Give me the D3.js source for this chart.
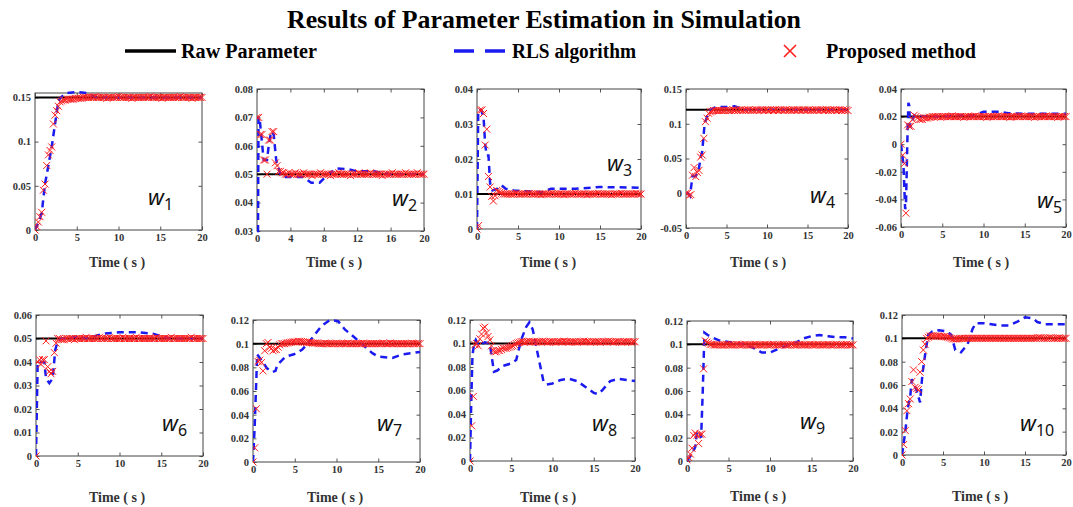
<!DOCTYPE html>
<html>
<head>
<meta charset="utf-8">
<script src="https://cdn.jsdelivr.net/npm/d3@7"></script>
<style>
  body { margin: 0; background: #fff; }
  svg { display: block; }
</style>
</head>
<body>
<script>
// sample times of the estimator (s)
var time = [0,0.2,0.4,0.6,0.8,1.0,1.2,1.4,1.6,1.8,2.0,2.2,2.4,2.6,2.8,3.0,3.2,3.4,3.6,3.8,4.0,
  4.2,4.4,4.6,4.8,5.0,5.2,5.4,5.6,5.8,6.0,6.2,6.4,6.6,6.8,7.0,7.2,7.4,7.6,7.8,8.0,
  8.2,8.4,8.6,8.8,9.0,9.2,9.4,9.6,9.8,10.0,10.2,10.4,10.6,10.8,11.0,11.2,11.4,11.6,11.8,12.0,
  12.2,12.4,12.6,12.8,13.0,13.2,13.4,13.6,13.8,14.0,14.2,14.4,14.6,14.8,15.0,15.2,15.4,15.6,15.8,16.0,
  16.2,16.4,16.6,16.8,17.0,17.2,17.4,17.6,17.8,18.0,18.2,18.4,18.6,18.8,19.0,19.2,19.4,19.6,19.8,20.0]

var names = ['1','2','3','4','5','6','7','8','9','10']
var rawParam = [0.15, 0.05, 0.01, 0.12, 0.02, 0.05, 0.1, 0.1, 0.1, 0.1]

// proposed method estimates, one value per entry of `time`
var propW1 = [0,0.004,0.009,0.015,0.020,0.045,0.052,0.073,0.085,0.090,
  0.094,0.120,0.130,0.135,0.140,0.145,0.146,0.147,0.147,0.148,0.148,
  0.148,0.148,0.148,0.149,0.149,0.149,0.149,0.149,0.150,0.150,
  0.150,0.150,0.150,0.150,0.150,0.151,0.150,0.150,0.150,0.150,
  0.150,0.150,0.149,0.150,0.150,0.150,0.150,0.150,0.150,0.151,
  0.150,0.150,0.150,0.150,0.150,0.150,0.150,0.149,0.150,0.150,
  0.150,0.150,0.150,0.150,0.150,0.150,0.150,0.150,0.151,0.150,
  0.150,0.150,0.150,0.150,0.150,0.149,0.150,0.150,0.150,0.150,
  0.150,0.150,0.150,0.150,0.150,0.150,0.151,0.150,0.150,0.150,
  0.150,0.150,0.150,0.149,0.150,0.150,0.150,0.150,0.150,0.150]
var propW2 = [0.070,0.070,0.064,0.064,0.055,0.055,0.050,0.062,0.062,0.065,
  0.065,0.054,0.053,0.051,0.051,0.0505,0.0505,0.050,0.050,0.0505,0.050,
  0.050,0.050,0.0505,0.050,0.050,0.050,0.050,0.0505,0.050,0.050,
  0.050,0.050,0.0495,0.050,0.050,0.050,0.050,0.0505,0.050,0.050,
  0.050,0.050,0.050,0.0495,0.050,0.050,0.050,0.050,0.0505,0.050,
  0.050,0.050,0.050,0.050,0.050,0.0495,0.050,0.050,0.050,0.050,
  0.0505,0.050,0.050,0.050,0.050,0.050,0.050,0.0505,0.050,0.050,
  0.050,0.050,0.050,0.050,0.0495,0.050,0.050,0.050,0.050,0.050,
  0.0505,0.050,0.050,0.050,0.050,0.050,0.050,0.050,0.0505,0.050,
  0.050,0.050,0.050,0.050,0.050,0.0505,0.050,0.050,0.050,0.050]
var propW3 = [0,0.001,0.034,0.034,0.033,0.024,0.0285,0.015,0.012,0.0093,
  0.008,0.0095,0.011,0.0108,0.0105,0.0102,0.010,0.010,0.010,0.010,0.010,
  0.010,0.010,0.010,0.0102,0.010,0.010,0.010,0.010,0.010,0.010,
  0.010,0.0102,0.010,0.010,0.010,0.010,0.010,0.010,0.0098,0.010,
  0.010,0.010,0.010,0.010,0.010,0.0102,0.010,0.010,0.010,0.010,
  0.010,0.010,0.0098,0.010,0.010,0.010,0.010,0.010,0.010,0.0102,
  0.010,0.010,0.010,0.010,0.010,0.010,0.0098,0.010,0.010,0.010,
  0.010,0.010,0.010,0.0102,0.010,0.010,0.010,0.010,0.010,0.010,
  0.010,0.0098,0.010,0.010,0.010,0.010,0.010,0.0102,0.010,0.010,
  0.010,0.010,0.010,0.010,0.010,0.010,0.0102,0.010,0.010,0.010]
var propW4 = [0,0,-0.003,-0.002,0.026,0.037,0.024,0.030,0.033,0.052,
  0.055,0.079,0.103,0.108,0.115,0.117,0.118,0.119,0.119,0.119,0.119,
  0.119,0.119,0.119,0.119,0.120,0.119,0.119,0.119,0.120,0.119,
  0.120,0.119,0.120,0.120,0.119,0.120,0.119,0.120,0.120,0.119,
  0.120,0.119,0.120,0.120,0.119,0.120,0.120,0.119,0.120,0.120,
  0.119,0.120,0.120,0.119,0.120,0.120,0.119,0.120,0.120,0.119,
  0.120,0.120,0.119,0.120,0.119,0.120,0.120,0.119,0.120,0.120,
  0.119,0.120,0.120,0.119,0.120,0.120,0.119,0.120,0.119,0.120,
  0.120,0.119,0.120,0.120,0.119,0.120,0.120,0.119,0.120,0.119,
  0.120,0.120,0.119,0.120,0.120,0.119,0.120,0.119,0.120,0.119]
var propW5 = [0,-0.008,-0.014,-0.050,0.014,0.013,0.013,0.018,0.021,0.020,
  0.019,0.018,0.018,0.018,0.019,0.019,0.019,0.0195,0.0195,0.020,0.020,
  0.020,0.020,0.020,0.0195,0.020,0.020,0.020,0.020,0.020,0.020,
  0.0205,0.020,0.020,0.020,0.020,0.020,0.020,0.0195,0.020,0.020,
  0.020,0.020,0.020,0.020,0.0205,0.020,0.020,0.020,0.020,0.020,
  0.020,0.0195,0.020,0.020,0.020,0.020,0.020,0.020,0.0205,0.020,
  0.020,0.020,0.020,0.020,0.020,0.0195,0.020,0.020,0.020,0.020,
  0.020,0.020,0.0205,0.020,0.020,0.020,0.020,0.020,0.020,0.020,
  0.0195,0.020,0.020,0.020,0.020,0.020,0.020,0.0205,0.020,0.020,
  0.020,0.020,0.020,0.020,0.0195,0.020,0.020,0.020,0.020,0.020]
var propW6 = [0,0.040,0.041,0.039,0.041,0.041,0.049,0.038,0.036,0.035,
  0.036,0.044,0.048,0.050,0.050,0.0495,0.0495,0.0495,0.050,0.050,0.050,
  0.050,0.050,0.0495,0.050,0.050,0.050,0.050,0.050,0.050,0.0505,
  0.050,0.050,0.050,0.050,0.050,0.050,0.050,0.0505,0.050,0.050,
  0.050,0.050,0.050,0.0505,0.050,0.050,0.050,0.050,0.050,0.050,
  0.050,0.0505,0.050,0.050,0.050,0.050,0.050,0.050,0.050,0.0505,
  0.050,0.050,0.050,0.050,0.050,0.050,0.050,0.050,0.050,0.050,
  0.050,0.0505,0.050,0.050,0.050,0.050,0.050,0.050,0.050,0.050,
  0.0505,0.050,0.050,0.050,0.050,0.050,0.050,0.050,0.050,0.050,
  0.050,0.050,0.0505,0.050,0.050,0.050,0.050,0.050,0.050,0.050]
var propW7 = [0,0.012,0.045,0.085,0.086,0.084,0.077,0.094,0.100,0.101,
  0.097,0.096,0.094,0.095,0.095,0.097,0.099,0.100,0.100,0.100,0.1005,
  0.1008,0.101,0.1012,0.1015,0.1015,0.1015,0.102,0.102,0.1018,0.1015,
  0.1012,0.101,0.101,0.101,0.1008,0.1005,0.1005,0.1005,0.1002,0.100,
  0.100,0.100,0.1005,0.100,0.100,0.100,0.100,0.100,0.100,0.1005,
  0.100,0.100,0.100,0.100,0.100,0.100,0.1005,0.100,0.100,0.100,
  0.100,0.100,0.100,0.100,0.100,0.1005,0.100,0.100,0.100,0.100,
  0.100,0.100,0.100,0.100,0.100,0.100,0.100,0.1005,0.100,0.100,
  0.100,0.1005,0.100,0.100,0.100,0.100,0.100,0.100,0.100,0.100,
  0.100,0.100,0.100,0.100,0.1005,0.100,0.100,0.100,0.100,0.100]
var propW8 = [0,0.030,0.055,0.099,0.100,0.098,0.104,0.108,0.113,0.114,
  0.109,0.106,0.103,0.098,0.094,0.093,0.093,0.094,0.094,0.095,0.096,
  0.096,0.096,0.0965,0.097,0.0975,0.098,0.099,0.100,0.1005,0.101,
  0.1015,0.1015,0.101,0.1015,0.1015,0.102,0.1015,0.1015,0.1015,0.101,
  0.1015,0.1015,0.1015,0.102,0.1015,0.1015,0.101,0.1015,0.1015,0.1015,
  0.1015,0.101,0.1015,0.1015,0.1015,0.1015,0.102,0.1015,0.1015,0.101,
  0.1015,0.1015,0.1015,0.1015,0.101,0.1015,0.1015,0.1015,0.102,0.1015,
  0.1015,0.1015,0.101,0.1015,0.1015,0.1015,0.1015,0.1015,0.101,0.1015,
  0.1015,0.1015,0.1015,0.102,0.1015,0.1015,0.101,0.1015,0.1015,0.1015,
  0.1015,0.101,0.1015,0.1015,0.1015,0.1015,0.1015,0.101,0.1015,0.1015]
var propW9 = [0.001,0.003,0.006,0.011,0.022,0.024,0.022,0.015,0.023,0.023,
  0.079,0.103,0.102,0.101,0.100,0.100,0.0995,0.0995,0.0995,0.0995,0.0995,
  0.0995,0.0995,0.0995,0.100,0.0995,0.0995,0.0995,0.0995,0.0995,0.100,
  0.0995,0.0995,0.0995,0.0995,0.100,0.0995,0.0995,0.0995,0.0995,0.0995,
  0.100,0.0995,0.0995,0.0995,0.0995,0.0995,0.100,0.0995,0.0995,0.0995,
  0.0995,0.100,0.0995,0.0995,0.0995,0.0995,0.0995,0.100,0.0995,0.0995,
  0.0995,0.0995,0.100,0.0995,0.0995,0.0995,0.0995,0.100,0.0995,0.0995,
  0.0995,0.0995,0.0995,0.100,0.0995,0.0995,0.0995,0.0995,0.100,0.0995,
  0.0995,0.0995,0.0995,0.0995,0.100,0.0995,0.0995,0.0995,0.0995,0.100,
  0.0995,0.0995,0.0995,0.0995,0.0995,0.100,0.0995,0.0995,0.0995,0.0995]
var propW10 = [0,0.009,0.021,0.038,0.044,0.048,0.063,0.073,0.058,0.057,
  0.056,0.071,0.080,0.090,0.095,0.100,0.101,0.102,0.102,0.102,0.102,
  0.102,0.102,0.102,0.1015,0.1015,0.1015,0.1012,0.101,0.1005,0.100,
  0.0995,0.0995,0.0995,0.0995,0.0998,0.100,0.100,0.100,0.100,0.100,
  0.100,0.100,0.100,0.100,0.100,0.100,0.100,0.100,0.100,0.100,
  0.100,0.100,0.100,0.100,0.100,0.100,0.100,0.100,0.100,0.100,
  0.100,0.100,0.100,0.100,0.100,0.100,0.100,0.100,0.100,0.100,
  0.100,0.100,0.100,0.100,0.100,0.100,0.100,0.100,0.100,0.100,
  0.100,0.100,0.1005,0.1005,0.1005,0.100,0.100,0.100,0.100,0.1005,
  0.1005,0.100,0.100,0.100,0.100,0.1005,0.100,0.100,0.100,0.100]

// RLS algorithm estimates, [time, value] breakpoints
var rlsW1 = [[0,0],[0.4,0.008],[0.8,0.019],[1.2,0.052],[1.6,0.073],[2.0,0.094],[2.4,0.12],
  [2.8,0.146],[3.2,0.151],[3.8,0.155],[5,0.156],[6.2,0.155],[6.8,0.152],[7.5,0.15],[20,0.15]]
var rlsW2 = [[0,0.03],[0.12,0.03],[0.18,0.07],[0.3,0.07],[0.5,0.064],[0.8,0.055],[1.2,0.055],
  [1.4,0.06],[1.7,0.065],[2.0,0.064],[2.3,0.055],[2.8,0.05],[3.2,0.049],[5.5,0.049],
  [6.5,0.047],[7.5,0.047],[8.5,0.05],[9.5,0.052],[11,0.0517],[12,0.051],[14,0.051],
  [15,0.0505],[16,0.05],[20,0.05]]
var rlsW3 = [[0,0],[0.15,0.034],[0.5,0.034],[0.8,0.032],[1.0,0.024],[1.2,0.021],[1.4,0.021],
  [1.6,0.013],[1.9,0.011],[2.5,0.0115],[3,0.0125],[3.5,0.0115],[4.5,0.011],[8,0.0105],
  [9,0.0115],[12,0.0115],[15,0.012],[20,0.0118]]
var rlsW4 = [[0,0],[0.2,0],[0.5,-0.004],[0.8,0.025],[1.2,0.025],[1.5,0.03],[1.8,0.05],[2.0,0.06],
  [2.3,0.1],[2.6,0.11],[3,0.12],[3.5,0.123],[4,0.124],[5,0.124],[6,0.125],[6.5,0.123],
  [7,0.12],[20,0.12]]
var rlsW5 = [[0,0],[0.3,-0.015],[0.5,-0.047],[0.6,-0.045],[0.8,0.01],[0.9,0.03],[1.0,0.028],
  [1.1,0.012],[1.3,0.015],[1.6,0.021],[2,0.02],[5,0.02],[7,0.021],[9,0.021],[10,0.0235],
  [12,0.0235],[13,0.0225],[15,0.022],[20,0.022]]
var rlsW6 = [[0,0],[0.2,0.04],[1.0,0.04],[1.2,0.033],[1.6,0.031],[2.0,0.033],[2.3,0.045],
  [2.6,0.049],[3,0.05],[4,0.05],[5,0.051],[6,0.05],[7,0.051],[8,0.052],[10,0.0527],
  [12,0.0527],[14,0.052],[15,0.051],[16,0.05],[20,0.05]]
var rlsW7 = [[0,0],[0.2,0.03],[0.4,0.07],[0.5,0.091],[1.1,0.085],[1.7,0.079],[2.3,0.076],
  [2.7,0.077],[2.9,0.082],[3.9,0.089],[4.9,0.091],[5.9,0.095],[7,0.104],[8.2,0.115],
  [9.2,0.12],[10.2,0.119],[11,0.112],[12.2,0.105],[13,0.1],[14.3,0.092],[15,0.089],
  [16.7,0.088],[17.9,0.091],[20,0.093]]
var rlsW8 = [[0,0],[0.15,0.05],[0.3,0.09],[0.5,0.1],[0.7,0.103],[0.9,0.1],[1.1,0.098],
  [1.5,0.1],[1.8,0.101],[2.4,0.1],[2.9,0.076],[3.3,0.077],[4,0.081],[5,0.083],[5.6,0.086],
  [6.2,0.103],[6.8,0.114],[7.2,0.118],[7.6,0.112],[8.3,0.088],[8.9,0.068],[9.3,0.065],
  [10,0.066],[11,0.069],[12,0.07],[13,0.068],[14,0.063],[15,0.058],[15.5,0.057],
  [16,0.06],[17,0.068],[18,0.07],[19,0.069],[20,0.068]]
var rlsW9 = [[0,0],[0.5,0.005],[1.0,0.012],[1.2,0.025],[1.5,0.025],[1.7,0.02],[1.9,0.06],
  [2.1,0.11],[2.5,0.108],[3,0.106],[4,0.103],[5,0.102],[6,0.101],[7,0.1],[8,0.097],
  [9,0.093],[10,0.093],[11,0.096],[12,0.099],[13,0.101],[14,0.105],[15,0.107],
  [16,0.108],[17,0.107],[18,0.106],[19,0.106],[20,0.105]]
var rlsW10 = [[0,0],[0.4,0.02],[0.7,0.04],[1.0,0.05],[1.2,0.065],[1.5,0.06],[1.8,0.055],
  [2.2,0.045],[2.5,0.07],[2.9,0.09],[3.2,0.103],[3.7,0.106],[4.5,0.107],[5.5,0.106],
  [6,0.103],[6.5,0.09],[7.2,0.088],[8,0.095],[8.6,0.108],[9,0.113],[10,0.113],[12,0.111],
  [13,0.111],[14,0.114],[15,0.118],[16,0.117],[16.5,0.114],[17.5,0.112],[20,0.112]]

var proposed = [propW1, propW2, propW3, propW4, propW5, propW6, propW7, propW8, propW9, propW10]
var rls = [rlsW1, rlsW2, rlsW3, rlsW4, rlsW5, rlsW6, rlsW7, rlsW8, rlsW9, rlsW10]

// axis limits and tick labels
var yLimits = [[0,0.155],[0.03,0.08],[0,0.04],[-0.05,0.15],[-0.06,0.04],
  [0,0.06],[0,0.12],[0,0.12],[0,0.12],[0,0.12]]
var yTicks = [
  [0,0.05,0.1,0.15],
  [0.03,0.04,0.05,0.06,0.07,0.08],
  [0,0.01,0.02,0.03,0.04],
  [-0.05,0,0.05,0.1,0.15],
  [-0.06,-0.04,-0.02,0,0.02,0.04],
  [0,0.01,0.02,0.03,0.04,0.05,0.06],
  [0,0.02,0.04,0.06,0.08,0.1,0.12],
  [0,0.02,0.04,0.06,0.08,0.1,0.12],
  [0,0.02,0.04,0.06,0.08,0.1,0.12],
  [0,0.02,0.04,0.06,0.08,0.1,0.12]]
var xTicks5 = [0,5,10,15,20]
var xTicks4 = [0,4,8,12,16,20]
var legendLabels = ['Raw Parameter', 'RLS algorithm', 'Proposed method']

// layout: plot boxes [left, top, right, bottom], w-label spot, time-label spot
var boxes = [[35,93,202,230],[257,89,424,231],[477,89,641,229],[686,89,848,228],[901,89,1066,227],
  [36,315,203,456],[253,320,420,462],[470,320,635,461],[687,321,853,461],[902,315,1066,455]]
var wPos = [[148,205],[392,206],[607,171],[810,203],[1037,208],
  [162,431],[377,431],[592,431],[800,429],[1020,431]]
var timePos = [[117,267],[334,267],[548,267],[758,267],[981,267],
  [117,502],[335,502],[548,502],[758,501],[980,501]]

var W = 1073, H = 507
var serif = '"Liberation Serif", "Times New Roman", serif'
var blue = '#1b1bf0', red = '#ff1e1e'

var svg = d3.select('body')
  .append('svg')
  .attr('width', W)
  .attr('height', H)

svg.append('text')
  .attr('x', 287).attr('y', 28)
  .attr('textLength', 514).attr('lengthAdjust', 'spacingAndGlyphs')
  .style('font-family', serif).style('font-weight', 'bold').style('font-size', '26px')
  .text('Results of Parameter Estimation in Simulation')

// legend
var leg = svg.append('g')
leg.append('line').attr('x1', 125).attr('x2', 176).attr('y1', 51).attr('y2', 51)
  .style('stroke', '#000').style('stroke-width', 3.5)
leg.append('line').attr('x1', 454).attr('x2', 505).attr('y1', 51).attr('y2', 51)
  .style('stroke', blue).style('stroke-width', 3.5).style('stroke-dasharray', '20,11')
leg.append('path').attr('d', 'M-6,-6L6,6M-6,6L6,-6').attr('transform', 'translate(790,51)')
  .style('stroke', red).style('stroke-width', 1.6).style('fill', 'none')
var legX = [181, 512, 826], legW = [136, 124, 150]
legendLabels.forEach(function(s, i) {
  leg.append('text').attr('x', legX[i]).attr('y', 58)
    .attr('textLength', legW[i]).attr('lengthAdjust', 'spacingAndGlyphs')
    .style('font-family', serif).style('font-weight', 'bold').style('font-size', '20px')
    .text(s)
})

var fmt = function(v) { return String(+v.toFixed(3)) }
var cross = 'M-3.5,-3.5L3.5,3.5M-3.5,3.5L3.5,-3.5'

boxes.forEach(function(b, i) {
  var x = d3.scaleLinear().domain([0, 20]).range([b[0], b[2]])
  var y = d3.scaleLinear().domain(yLimits[i]).range([b[3], b[1]])
  var xt = i === 1 ? xTicks4 : xTicks5
  var g = svg.append('g')

  g.append('clipPath').attr('id', 'clip' + i)
    .append('rect').attr('x', b[0]).attr('y', b[1] - 4)
    .attr('width', b[2] - b[0] + 5).attr('height', b[3] - b[1] + 8)

  // axes with inward ticks on all sides
  var axes = [
    [d3.axisBottom(x).tickValues(xt), 'translate(0,' + b[3] + ')', true],
    [d3.axisTop(x).tickValues(xt), 'translate(0,' + b[1] + ')', false],
    [d3.axisLeft(y).tickValues(yTicks[i]), 'translate(' + b[0] + ',0)', true],
    [d3.axisRight(y).tickValues(yTicks[i]), 'translate(' + b[2] + ',0)', false]
  ]
  axes.forEach(function(a) {
    var ax = g.append('g').attr('transform', a[1])
      .call(a[0].tickSizeInner(-3.5).tickSizeOuter(0).tickPadding(a[2] ? 4 : 0).tickFormat(a[2] ? fmt : ''))
    ax.select('.domain').remove()
    ax.selectAll('line').style('stroke', '#555')
    ax.selectAll('text').style('font-family', serif).style('font-weight', 'bold')
      .style('font-size', '10.5px').style('fill', '#333')
  })

  g.append('rect').attr('x', b[0]).attr('y', b[1])
    .attr('width', b[2] - b[0]).attr('height', b[3] - b[1])
    .style('fill', 'none').style('stroke', '#444').style('stroke-width', 1)

  var plot = g.append('g').attr('clip-path', 'url(#clip' + i + ')')

  plot.append('line')
    .attr('x1', x(0)).attr('x2', x(20))
    .attr('y1', y(rawParam[i])).attr('y2', y(rawParam[i]))
    .style('stroke', '#000').style('stroke-width', 2)

  plot.append('path').datum(rls[i])
    .attr('d', d3.line().x(function(d) { return x(d[0]) }).y(function(d) { return y(d[1]) }))
    .style('fill', 'none').style('stroke', blue).style('stroke-width', 2.5)
    .style('stroke-dasharray', '7,5')

  plot.selectAll('.mk')
    .data(proposed[i])
   .enter()
    .append('path')
    .classed('mk', true)
    .attr('d', cross)
    .attr('transform', function(d, k) { return 'translate(' + x(time[k]) + ',' + y(d) + ')' })
    .style('stroke', red).style('stroke-width', 1).style('fill', 'none')

  // parameter name
  var lab = g.append('text').attr('x', wPos[i][0]).attr('y', wPos[i][1])
    .style('font-family', '"Noto Sans", "DejaVu Sans", sans-serif').style('fill', '#111')
  lab.append('tspan').style('font-style', 'italic').style('font-size', '22px').text('w')
  lab.append('tspan').attr('dy', 5).style('font-size', '16px').text(names[i])

  g.append('text').attr('x', timePos[i][0]).attr('y', timePos[i][1])
    .attr('text-anchor', 'middle')
    .style('font-family', serif).style('font-weight', 'bold').style('font-size', '14px')
    .style('fill', '#333')
    .text('Time ( s )')
})
</script>
</body>
</html>
